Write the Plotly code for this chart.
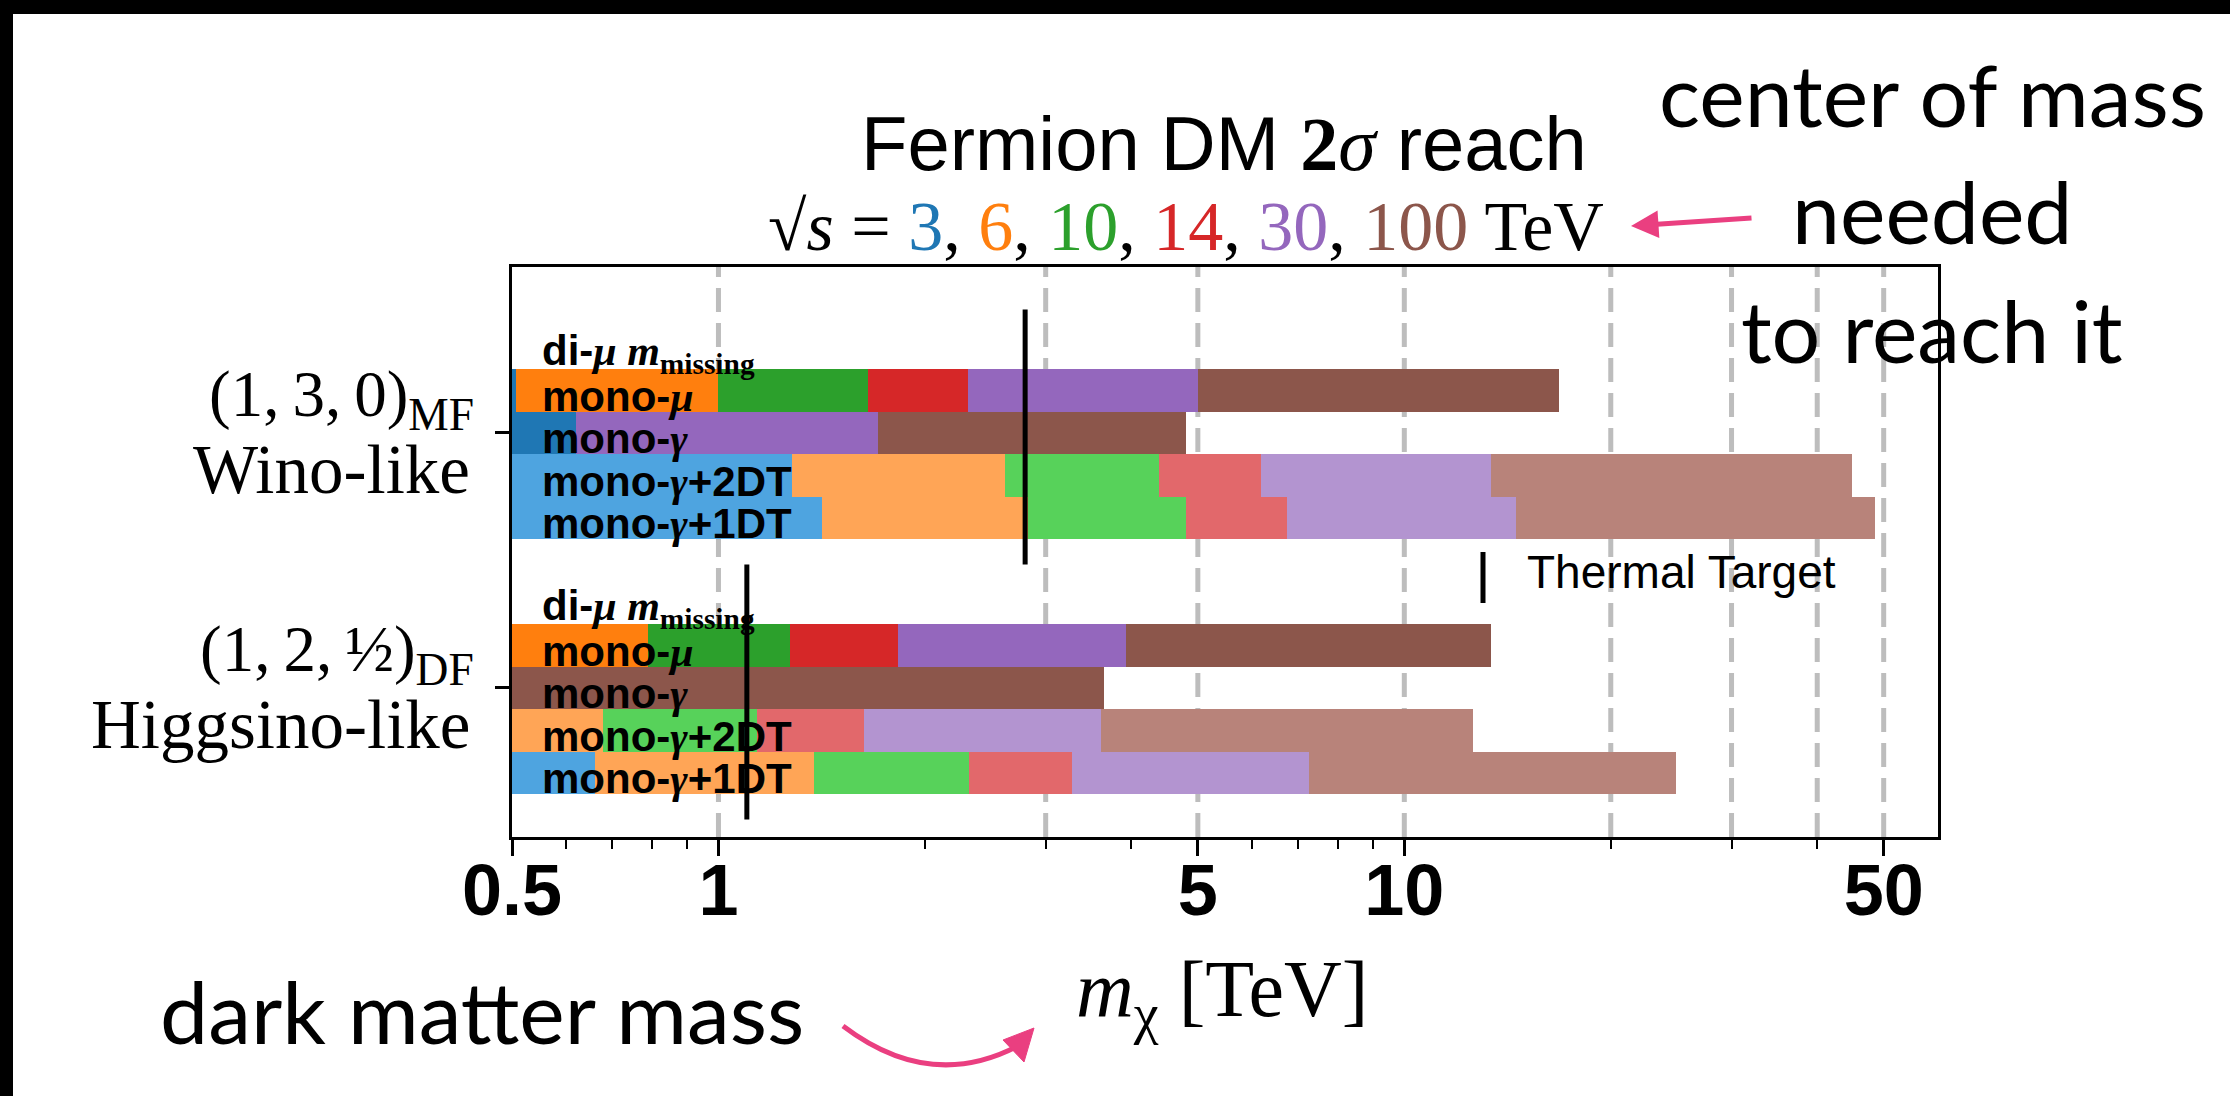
import plotly.graph_objects as go

# ---------------- data ----------------
energies = ["3", "6", "10", "14", "30", "100"]          # sqrt(s) in TeV
colors_full = ["#1f77b4", "#ff7f0e", "#2ca02c", "#d62728", "#9467bd", "#8c564b"]
colors_light = ["#4ea4e0", "#ffa556", "#57d25a", "#e2686b", "#b394d0", "#b8837a"]

channels = ["di-mu m_missing", "mono-mu", "mono-gamma", "mono-gamma+2DT", "mono-gamma+1DT"]
channel_labels = [
    "di-<span style='font-family:Liberation Serif'><i>μ</i> <i>m</i><sub>missing</sub></span>",
    "mono-<span style='font-family:Liberation Serif'><i>μ</i></span>",
    "mono-<span style='font-family:Liberation Serif'><i>γ</i></span>",
    "mono-<span style='font-family:Liberation Serif'><i>γ</i></span>+2DT",
    "mono-<span style='font-family:Liberation Serif'><i>γ</i></span>+1DT",
]
channel_light = [False, False, False, True, True]

groups = ["Wino", "Higgsino"]
group_line1 = ["(1,\u20093,\u20090)<sub>MF</sub>", "(1,\u20092,\u2009½)<sub>DF</sub>"]
group_line2 = ["Wino-like", "Higgsino-like"]

# 2-sigma reach in m_chi [TeV] for sqrt(s) = 3, 6, 10, 14, 30, 100 TeV (None = no reach)
wino_di_mu = [None, None, None, None, None, None]
wino_mono_mu = [0.507, 1.0, 1.65, 2.31, 5.0, 16.8]
wino_mono_gamma = [0.62, None, None, None, 1.71, 4.80]
wino_2dt = [1.28, 2.62, 4.39, 6.18, 13.4, 45.0]
wino_1dt = [1.415, 2.83, 4.80, 6.74, 14.55, 48.6]

higgsino_di_mu = [None, None, None, None, None, None]
higgsino_mono_mu = [None, 0.789, 1.27, 1.825, 3.93, 13.4]
higgsino_mono_gamma = [None, None, None, None, None, 3.65]
higgsino_2dt = [None, 0.678, 1.14, 1.63, 3.61, 12.6]
higgsino_1dt = [0.66, 1.38, 2.32, 3.28, 7.26, 24.9]

reach = [
    [wino_di_mu, wino_mono_mu, wino_mono_gamma, wino_2dt, wino_1dt],
    [higgsino_di_mu, higgsino_mono_mu, higgsino_mono_gamma, higgsino_2dt, higgsino_1dt],
]

thermal_target = [2.8, 1.1]     # TeV, Wino / Higgsino

x_range = [0.5, 60]
major_ticks = [0.5, 1, 5, 10, 50]
major_labels = ["0.5", "1", "5", "10", "50"]
minor_ticks = [0.6, 0.7, 0.8, 0.9, 2, 3, 4, 6, 7, 8, 9, 20, 30, 40]
grid_values = [1, 3, 5, 10, 20, 30, 40, 50]

# ---------------- layout helpers ----------------
W, H = 2230, 1096
ML, MR, MT, MB = 512, 292, 267, 259
PW, PH = W - ML - MR, H - MT - MB


def px(X):
    return (X - ML) / PW


def py(Y):
    return (H - MB - Y) / PH


ROWS_PER_GROUP = 6
y_range = [11.51, -1.9]


def row_y(g, c):
    return ROWS_PER_GROUP * g + c


fig = go.Figure()

# bars: highest energy drawn first (behind), lower energies overlaid on top
for e in reversed(range(len(energies))):
    ys, xs, cols = [], [], []
    for g in range(len(groups)):
        for c in range(len(channels)):
            v = reach[g][c][e]
            if v is None:
                continue
            ys.append(row_y(g, c))
            xs.append(v - x_range[0])
            cols.append(colors_light[e] if channel_light[c] else colors_full[e])
    fig.add_trace(go.Bar(
        y=ys, x=xs, base=x_range[0], orientation="h", width=1.0,
        marker=dict(color=cols, line=dict(width=0)),
        name=f"√s = {energies[e]} TeV", showlegend=False,
    ))

# thermal target lines
for g, m in enumerate(thermal_target):
    fig.add_trace(go.Scatter(
        x=[m, m], y=[ROWS_PER_GROUP * g - 0.9, ROWS_PER_GROUP * g + 5.1],
        mode="lines", line=dict(color="black", width=5),
        name="Thermal Target", showlegend=False,
    ))

shapes = []
# dashed grid lines
for gv in grid_values:
    shapes.append(dict(type="line", xref="x", yref="paper", x0=gv, x1=gv, y0=0, y1=1,
                       line=dict(color="#bdbdbd", width=5, dash="24px,11px"), layer="below"))

# slide frame (black bars top/left)
shapes.append(dict(type="rect", xref="paper", yref="paper", x0=px(0), x1=px(W), y0=py(14), y1=py(0),
                   fillcolor="black", line=dict(width=0), layer="above"))
shapes.append(dict(type="rect", xref="paper", yref="paper", x0=px(0), x1=px(13), y0=py(H), y1=py(0),
                   fillcolor="black", line=dict(width=0), layer="above"))

# legend marker for thermal target
shapes.append(dict(type="line", xref="paper", yref="paper", x0=px(1483), x1=px(1483), y0=py(552), y1=py(603),
                   line=dict(color="black", width=5)))

# curved pink arrow (dark matter mass -> axis title)
pink = "#ea3f80"
p0 = (px(843), py(1026))
pc = (px(930), py(1092))
p1 = (px(1018), py(1046))
shapes.append(dict(type="path", xref="paper", yref="paper",
                   path=f"M {p0[0]},{p0[1]} Q {pc[0]},{pc[1]} {p1[0]},{p1[1]}",
                   line=dict(color=pink, width=5)))
h1, h2, h3 = (px(1034), py(1028)), (px(1003), py(1040)), (px(1024), py(1062))
shapes.append(dict(type="path", xref="paper", yref="paper",
                   path=f"M {h1[0]},{h1[1]} L {h2[0]},{h2[1]} L {h3[0]},{h3[1]} Z",
                   fillcolor=pink, line=dict(color=pink, width=1)))

ann = []
# channel labels inside bars
for g in range(len(groups)):
    for c in range(len(channels)):
        ann.append(dict(x=px(540), xref="paper", y=row_y(g, c), yref="y", text="<b>" + channel_labels[c] + "</b>",
                        showarrow=False, xanchor="left", yanchor="middle", yshift=-6,
                        font=dict(family="Liberation Sans", size=42, color="black")))

# group labels (y tick labels)
for g in range(len(groups)):
    ann.append(dict(x=px(476), xref="paper", y=row_y(g, 2), yref="y", text=group_line1[g],
                    showarrow=False, xanchor="right", yanchor="middle", yshift=34,
                    font=dict(family="Liberation Serif", size=65, color="black")))
    ann.append(dict(x=px(472), xref="paper", y=row_y(g, 2), yref="y", text=group_line2[g],
                    showarrow=False, xanchor="right", yanchor="middle", yshift=-37,
                    font=dict(family="Liberation Serif", size=69, color="black")))

# title + subtitle
ann.append(dict(x=px(1224), y=py(143), xref="paper", yref="paper", showarrow=False,
                xanchor="center", yanchor="middle",
                text="Fermion DM <span style='font-family:Liberation Serif'><b>2</b><i>σ</i></span> reach",
                font=dict(family="Liberation Sans", size=76, color="black")))
sub = "√<i>s</i> = " + ", ".join(
    f"<span style='color:{colors_full[i]}'>{energies[i]}</span>" for i in range(len(energies))) + " TeV"
ann.append(dict(x=px(1186), y=py(226), xref="paper", yref="paper", showarrow=False,
                xanchor="center", yanchor="middle", text=sub,
                font=dict(family="Liberation Serif", size=70, color="black")))

# thermal target legend text
ann.append(dict(x=px(1525), y=py(572), xref="paper", yref="paper", showarrow=False,
                xanchor="left", yanchor="middle",
                text="Thermal Target", font=dict(family="Liberation Sans", size=46, color="black")))

# axis title
ann.append(dict(x=px(1222), y=py(995), xref="paper", yref="paper", showarrow=False,
                xanchor="center", yanchor="middle",
                text="<i>m</i><sub>χ</sub> [TeV]",
                font=dict(family="Liberation Serif", size=80, color="black")))

# slide annotations
slide_font = dict(family="Lato", size=86, color="black")
for txt, yy in [("center of mass", 94), ("needed", 211), ("to reach it", 329)]:
    ann.append(dict(x=px(1932), y=py(yy), xref="paper", yref="paper", showarrow=False,
                    xanchor="center", yanchor="middle", text=txt, font=slide_font))
ann.append(dict(x=px(158), y=py(1010), xref="paper", yref="paper", showarrow=False,
                xanchor="left", yanchor="middle", text="dark matter mass", font=slide_font))
# straight pink arrow toward the sqrt(s) line
ann.append(dict(x=px(1631), y=py(226), xref="paper", yref="paper", text="", showarrow=True,
                ax=122, ay=-8, arrowhead=2, arrowsize=1.1, arrowwidth=5, arrowcolor=pink))

fig.update_layout(
    width=W, height=H, autosize=False,
    margin=dict(l=ML, r=MR, t=MT, b=MB, pad=0),
    paper_bgcolor="white", plot_bgcolor="white",
    barmode="overlay", bargap=0,
    showlegend=False,
    shapes=shapes, annotations=ann,
    xaxis=dict(
        type="log", range=[-0.30103, 1.77815], autorange=False,
        tickmode="array", tickvals=major_ticks, ticktext=["<b>" + t + "</b>" for t in major_labels],
        ticks="outside", ticklen=16, tickwidth=2.5, tickcolor="black",
        ticklabelstandoff=-27,
        minor=dict(tickmode="array", tickvals=minor_ticks, ticks="outside", ticklen=9,
                   tickwidth=2, tickcolor="black", showgrid=False),
        tickfont=dict(family="Liberation Sans", size=72, color="black"),
        showgrid=False, zeroline=False,
        showline=True, linecolor="black", linewidth=3, mirror=True,
        automargin=False,
    ),
    yaxis=dict(
        range=y_range, autorange=False,
        tickmode="array", tickvals=[row_y(0, 2), row_y(1, 2)], showticklabels=False,
        ticks="outside", ticklen=14, tickwidth=2.5, tickcolor="black",
        showgrid=False, zeroline=False,
        showline=True, linecolor="black", linewidth=3, mirror=True,
        automargin=False,
    ),
)

fig.write_html("out.html")
